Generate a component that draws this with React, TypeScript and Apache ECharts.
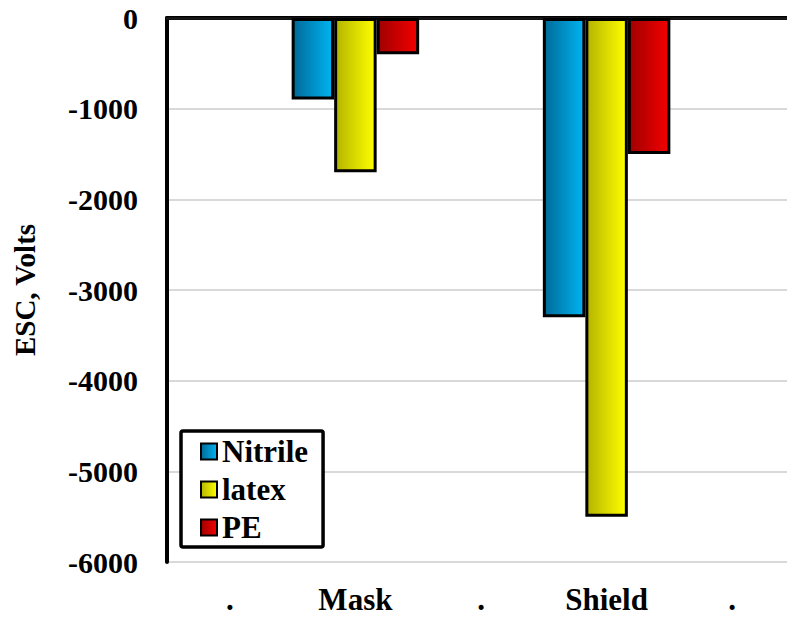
import React, { useEffect, useRef } from "react";
import * as echarts from "echarts";

const categories = [".", "Mask", ".", "Shield", "."];
const nitrile = [null, -900, null, -3300, null];
const latex = [null, -1700, null, -5500, null];
const pe = [null, -400, null, -1500, null];
const seriesNames = ["Nitrile", "latex", "PE"];

const FONT = "Liberation Serif";

function grad(c0: string, c1: string) {
  return new echarts.graphic.LinearGradient(0, 0, 1, 0, [
    { offset: 0, color: c0 },
    { offset: 1, color: c1 },
  ]);
}

export default function App() {
  const ref = useRef<HTMLDivElement>(null);
  useEffect(() => {
    if (!ref.current) return;
    const chart = echarts.init(ref.current, undefined, { renderer: "svg" });
    const colors = [
      grad("#006a98", "#00b4f2"),
      grad("#b4b400", "#ffff00"),
      grad("#a00000", "#f40000"),
    ];
    const datas = [nitrile, latex, pe];
    const txt = {
      fontFamily: FONT,
      fontWeight: "bold",
      fontSize: 31,
      color: "#000",
    };
    chart.setOption({
      animation: false,
      backgroundColor: "#ffffff",
      textStyle: { fontFamily: FONT },
      grid: {
        left: 167,
        width: 628,
        top: 18,
        bottom: 57,
        containLabel: false,
        outerBoundsMode: "none",
      },
      legend: {
        orient: "vertical",
        left: 181,
        top: 431,
        padding: [5, 15, 4, 19],
        borderColor: "#000",
        borderWidth: 3.5,
        borderRadius: 2,
        backgroundColor: "#fff",
        itemWidth: 16,
        itemHeight: 16,
        itemGap: 7,
        icon: "rect",
        textStyle: { ...txt, lineHeight: 31 },
        data: seriesNames,
      },
      xAxis: [
        {
          type: "category",
          data: categories,
          position: "bottom",
          axisLine: { show: true, lineStyle: { color: "#000", width: 4 } },
          axisTick: { show: false },
          axisLabel: { ...txt, margin: 22, interval: 0 },
        },
        {
          type: "category",
          data: categories,
          position: "top",
          axisLine: { show: true, lineStyle: { color: "#1a1a1a", width: 2.5 } },
          axisTick: { show: false },
          axisLabel: { show: false },
        },
      ],
      yAxis: {
        type: "value",
        min: -6000,
        max: 0,
        interval: 1000,
        name: "ESC, Volts",
        nameLocation: "middle",
        nameRotate: 90,
        nameGap: 128,
        nameTextStyle: { ...txt, fontSize: 29 },
        axisLine: { show: true, lineStyle: { color: "#000", width: 4 } },
        axisTick: { show: false },
        splitLine: { show: true, lineStyle: { color: "#d9d9d9", width: 2 } },
        axisLabel: {
          ...txt,
          fontSize: 30,
          margin: 29,
          formatter: (v: number) => String(v),
        },
      },
      series: seriesNames.map((name, i) => ({
        name,
        type: "bar",
        data: datas[i],
        barWidth: 42.5,
        barGap: "0%",
        itemStyle: { color: colors[i], borderColor: "#000", borderWidth: 3 },
      })),
    });
    return () => chart.dispose();
  }, []);
  return (
    <div
      ref={ref}
      style={{ position: "fixed", left: 0, top: 0, width: 787, height: 619 }}
    />
  );
}
